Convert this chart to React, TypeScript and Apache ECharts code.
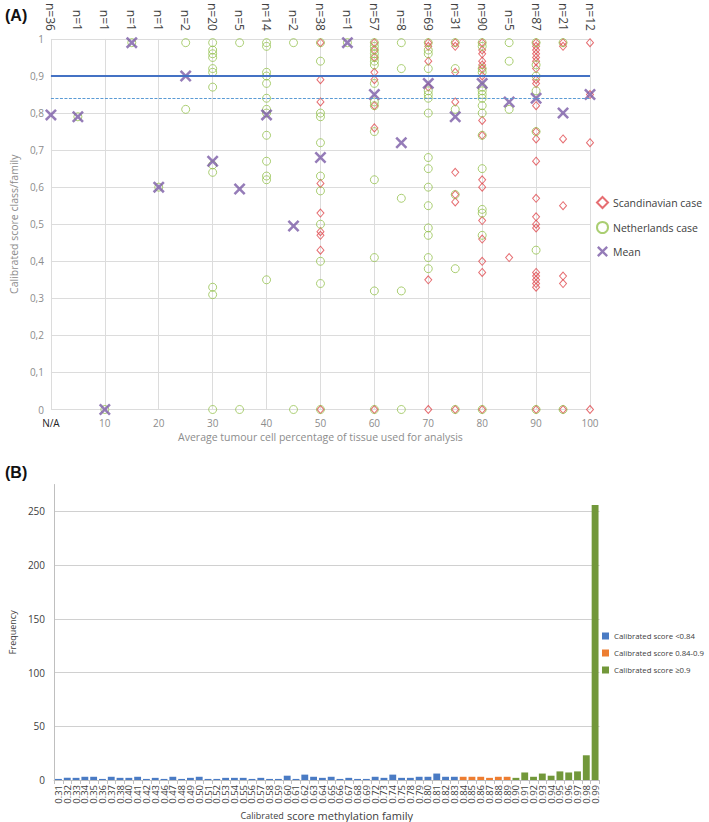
import React, { useEffect, useRef } from "react";
import * as echarts from "echarts";

// ---------- Panel A data ----------
const nLabels = ["n=36","n=1","n=1","n=1","n=1","n=2","n=20","n=5","n=14","n=2","n=38","n=1","n=57","n=8","n=69","n=31","n=90","n=5","n=87","n=21","n=12"];

const scandinavian: [number, number][] = [
  [50,0.99],[50,0.89],[50,0.83],[50,0.61],[50,0.53],[50,0.48],[50,0.47],[50,0.43],[50,0],
  [60,0.99],[60,0.97],[60,0.95],[60,0.91],[60,0.89],[60,0.82],[60,0.76],[60,0],
  [70,0.99],[70,0.98],[70,0.94],[70,0.87],[70,0.35],[70,0],
  [75,0.99],[75,0.98],[75,0.91],[75,0.83],[75,0.64],[75,0.58],[75,0.56],[75,0],
  [80,0.99],[80,0.97],[80,0.96],[80,0.94],[80,0.93],[80,0.92],[80,0.90],[80,0.78],[80,0.74],[80,0.62],[80,0.60],[80,0.51],[80,0.46],[80,0.40],[80,0.37],[80,0],
  [85,0.41],
  [90,0.99],[90,0.98],[90,0.97],[90,0.96],[90,0.95],[90,0.94],[90,0.92],[90,0.89],[90,0.88],[90,0.82],[90,0.75],[90,0.73],[90,0.67],[90,0.57],[90,0.52],[90,0.50],[90,0.49],[90,0.37],[90,0.36],[90,0.35],[90,0.34],[90,0.33],[90,0],
  [95,0.99],[95,0.98],[95,0.73],[95,0.55],[95,0.36],[95,0.34],[95,0],
  [100,0.99],[100,0.85],[100,0.72],[100,0]
];

const netherlands: [number, number][] = [
  [5,0.79],[10,0],[15,0.99],[20,0.60],
  [25,0.99],[25,0.81],
  [30,0.99],[30,0.97],[30,0.96],[30,0.95],[30,0.92],[30,0.91],[30,0.87],[30,0.66],[30,0.64],[30,0.33],[30,0.31],[30,0],
  [35,0.99],[35,0],
  [40,0.99],[40,0.98],[40,0.91],[40,0.90],[40,0.88],[40,0.84],[40,0.81],[40,0.80],[40,0.74],[40,0.67],[40,0.63],[40,0.62],[40,0.35],
  [45,0.99],[45,0],
  [50,0.99],[50,0.94],[50,0.80],[50,0.79],[50,0.72],[50,0.63],[50,0.59],[50,0.50],[50,0.40],[50,0.34],[50,0],
  [55,0.99],
  [60,0.99],[60,0.98],[60,0.97],[60,0.96],[60,0.95],[60,0.94],[60,0.93],[60,0.88],[60,0.83],[60,0.82],[60,0.75],[60,0.62],[60,0.41],[60,0.32],[60,0],
  [65,0.99],[65,0.92],[65,0.57],[65,0.32],[65,0],
  [70,0.99],[70,0.97],[70,0.96],[70,0.92],[70,0.86],[70,0.85],[70,0.84],[70,0.80],[70,0.68],[70,0.65],[70,0.60],[70,0.55],[70,0.49],[70,0.47],[70,0.41],[70,0.38],
  [75,0.99],[75,0.92],[75,0.81],[75,0.58],[75,0.38],[75,0],
  [80,0.99],[80,0.98],[80,0.92],[80,0.91],[80,0.87],[80,0.86],[80,0.85],[80,0.84],[80,0.82],[80,0.80],[80,0.74],[80,0.65],[80,0.54],[80,0.53],[80,0.47],[80,0],
  [85,0.99],[85,0.94],[85,0.81],
  [90,0.99],[90,0.93],[90,0.90],[90,0.86],[90,0.75],[90,0.43],[90,0],
  [95,0.99],[95,0]
];

const meanPoints: [number, number][] = [
  [0,0.795],[5,0.79],[10,0],[15,0.99],[20,0.60],[25,0.90],[30,0.67],[35,0.595],[40,0.795],[45,0.495],
  [50,0.68],[55,0.99],[60,0.85],[65,0.72],[70,0.88],[75,0.79],[80,0.88],[85,0.83],[90,0.84],[95,0.80],[100,0.85]
];

const thresholdHigh = 0.9;
const thresholdLow = 0.84;

// ---------- Panel B data ----------
const scoreCategories = ["0.31","0.32","0.33","0.34","0.35","0.36","0.37","0.38","0.40","0.41","0.42","0.43","0.46","0.47","0.48","0.49","0.50","0.51","0.52","0.53","0.54","0.55","0.56","0.57","0.58","0.59","0.60","0.61","0.62","0.63","0.64","0.65","0.66","0.67","0.68","0.69","0.72","0.73","0.74","0.75","0.78","0.79","0.80","0.81","0.82","0.83","0.84","0.85","0.86","0.87","0.88","0.89","0.90","0.91","0.92","0.93","0.94","0.95","0.96","0.97","0.98","0.99"];
const frequencies = [1,2,2,3,3,1,3,2,2,3,1,2,1,3,1,2,3,1,1,2,2,2,1,2,1,1,4,1,5,3,2,3,1,2,1,1,3,2,5,2,2,3,3,6,3,3,3,3,3,2,3,3,2,7,3,6,4,8,7,8,23,256];

const RED = "#E04A4F";
const GREEN = "#95C24F";
const PURPLE = "#7B5BA6";
const XPATH = "path://M0,1.5L1.5,0L5,3.5L8.5,0L10,1.5L6.5,5L10,8.5L8.5,10L5,6.5L1.5,10L0,8.5L3.5,5Z";

export default function App() {
  const ref = useRef<HTMLDivElement>(null);
  useEffect(() => {
    if (!ref.current) return;
    const chart = echarts.init(ref.current, undefined, { renderer: "svg" });

    const band = (lo: number, hi: number) =>
      scoreCategories.map((c, i) => {
        const v = parseFloat(c);
        return v >= lo && v < hi ? frequencies[i] : "-";
      });

    const fmtComma = (v: number) => String(+v.toFixed(1)).replace(".", ",");

    const option: any = {
      animation: false,
      textStyle: { fontFamily: "Open Sans" },
      title: [
        { text: "(A)", left: 0, top: 2, textStyle: { fontFamily: "Liberation Sans", fontSize: 16, fontWeight: "bold", color: "#111" } },
        { text: "(B)", left: 0, top: 459, textStyle: { fontFamily: "Liberation Sans", fontSize: 16, fontWeight: "bold", color: "#111" } }
      ],
      grid: [
        { left: 38, right: 119, top: 38, bottom: 412.5 },
        { left: 42, right: 109.5, top: 484.5, bottom: 40.5 }
      ],
      legend: [
        {
          orient: "vertical", left: 596, top: 196, padding: 0, itemGap: 12, itemWidth: 11, itemHeight: 11,
          textStyle: { fontSize: 10.5, color: "#404040" },
          data: ["Scandinavian case", "Netherlands case", "Mean"]
        },
        {
          orient: "vertical", left: 602, top: 632, padding: 0, itemGap: 9, itemWidth: 7, itemHeight: 7,
          icon: "rect",
          textStyle: { fontSize: 7.8, color: "#404040" },
          data: ["Calibrated score <0.84", "Calibrated score 0.84-0.9", "Calibrated score \u22650.9"]
        }
      ],
      xAxis: [
        {
          gridIndex: 0, type: "value", min: 0, max: 100, interval: 10,
          axisLine: { show: false }, axisTick: { show: false },
          splitLine: { show: true, lineStyle: { color: "#dcdcdc", width: 1 } },
          axisLabel: {
            margin: 8, fontSize: 10, color: "#8c8c8c",
            formatter: (v: number) => (v === 0 ? "{na|N/A}" : String(v)),
            rich: { na: { fontSize: 10, color: "#222" } }
          },
          name: "Average tumour cell percentage of tissue used for analysis",
          nameLocation: "middle", nameGap: 22,
          nameTextStyle: { fontSize: 10.5, color: "#8c8c8c" }
        },
        {
          gridIndex: 0, type: "value", position: "top", min: 0, max: 100, interval: 5,
          axisLine: { show: false }, axisTick: { show: false }, splitLine: { show: false },
          axisLabel: {
            rotate: 90, margin: 8, fontSize: 12, color: "#404040",
            formatter: (v: number) => nLabels[Math.round(v / 5)] ?? ""
          }
        },
        {
          gridIndex: 1, type: "category", data: scoreCategories,
          axisLine: { lineStyle: { color: "#bfbfbf" } },
          axisTick: { show: true, length: 4, lineStyle: { color: "#bfbfbf" } },
          axisLabel: { interval: 0, rotate: 90, margin: 5, fontSize: 9.5, color: "#404040" },
          name: "{a|Calibrated} {b|score methylation family}",
          nameLocation: "middle", nameGap: 29,
          nameTextStyle: {
            color: "#404040",
            rich: { a: { fontSize: 9, color: "#404040" }, b: { fontSize: 11, color: "#404040" } }
          }
        }
      ],
      yAxis: [
        {
          gridIndex: 0, type: "value", min: 0, max: 1, interval: 0.1,
          axisLine: { show: false }, axisTick: { show: false },
          splitLine: { lineStyle: { color: "#dcdcdc", width: 1 } },
          axisLabel: { margin: 7, fontSize: 10, color: "#8c8c8c", formatter: fmtComma },
          name: "Calibrated score class/family",
          nameLocation: "middle", nameGap: 22,
          nameTextStyle: { fontSize: 10.5, color: "#8c8c8c" }
        },
        {
          gridIndex: 1, type: "value", min: 0, max: 275, interval: 50,
          axisLine: { show: true, lineStyle: { color: "#bfbfbf" } }, axisTick: { show: false },
          splitLine: { show: true, showMaxLine: false, lineStyle: { color: "#d0d0d0", width: 1.2 } },
          axisLabel: { margin: 9, fontSize: 10, color: "#404040", showMaxLabel: false },
          name: "Frequency", nameLocation: "middle", nameGap: 27,
          nameTextStyle: { fontSize: 9, color: "#404040" }
        }
      ],
      series: [
        {
          name: "Scandinavian case", type: "scatter", xAxisIndex: 0, yAxisIndex: 0,
          symbol: "diamond", symbolSize: [7, 8],
          itemStyle: { color: "rgba(0,0,0,0)", borderColor: RED, borderWidth: 1 },
          data: scandinavian,
          markLine: {
            silent: true, symbol: "none", label: { show: false },
            data: [
              { yAxis: thresholdHigh, lineStyle: { color: "#4472C4", width: 2, type: "solid" } },
              { yAxis: thresholdLow, lineStyle: { color: "#5B9BD5", width: 1.2, type: [3, 1.5] } }
            ]
          }
        },
        {
          name: "Netherlands case", type: "scatter", xAxisIndex: 0, yAxisIndex: 0,
          symbol: "circle", symbolSize: 8,
          itemStyle: { color: "rgba(0,0,0,0)", borderColor: GREEN, borderWidth: 1 },
          data: netherlands
        },
        {
          name: "Mean", type: "scatter", xAxisIndex: 0, yAxisIndex: 0,
          symbol: XPATH, symbolSize: 12,
          itemStyle: { color: PURPLE },
          data: meanPoints
        },
        {
          name: "Calibrated score <0.84", type: "bar", xAxisIndex: 2, yAxisIndex: 1, stack: "freq",
          barCategoryGap: "22%", itemStyle: { color: "#4A7BC4" }, data: band(0, 0.84)
        },
        {
          name: "Calibrated score 0.84-0.9", type: "bar", xAxisIndex: 2, yAxisIndex: 1, stack: "freq",
          barCategoryGap: "22%", itemStyle: { color: "#ED7D31" }, data: band(0.84, 0.9)
        },
        {
          name: "Calibrated score \u22650.9", type: "bar", xAxisIndex: 2, yAxisIndex: 1, stack: "freq",
          barCategoryGap: "22%", itemStyle: { color: "#72983A" }, data: band(0.9, 2)
        }
      ]
    };
    chart.setOption(option);
    return () => chart.dispose();
  }, []);
  return <div ref={ref} style={{ position: "absolute", left: 0, top: 0, width: 709, height: 822, background: "#fff" }} />;
}
